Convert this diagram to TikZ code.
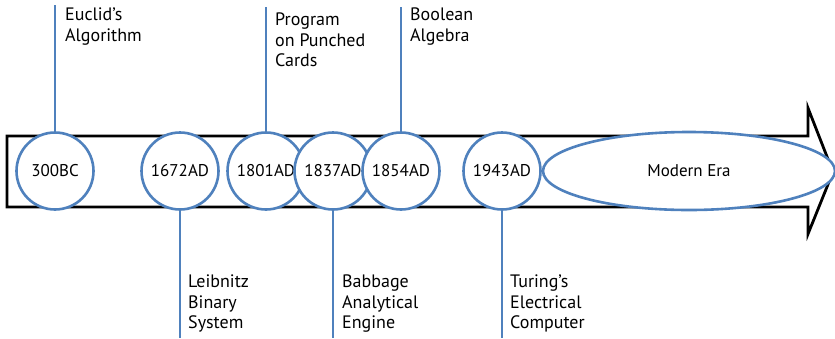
\documentclass[tikz,border=0pt]{standalone}
\usepackage{fontspec}
\setmainfont{PT Sans}
\usetikzlibrary{shapes.geometric}
\definecolor{tlblue}{HTML}{4F81BD}
\tikzset{
  yearc/.style={circle, draw=tlblue, line width=2.6pt, fill=white, minimum size=77pt, inner sep=0pt, font=\fontsize{17}{20}\selectfont},
  conn/.style={draw=tlblue, line width=2.6pt},
  lbl/.style={anchor=north west, inner sep=0pt, align=left, font=\fontsize{18}{20.5}\selectfont},
  arrowbody/.style={draw=black, line width=2.8pt, fill=white, line join=miter}
}
\begin{document}
\begin{tikzpicture}[x=1pt,y=-1pt]
\useasboundingbox (0,0) rectangle (835,338);
% big arrow
\draw[arrowbody] (7,136) -- (808,136) -- (808,108) -- (833,172) -- (808,234) -- (808,207) -- (7,207) -- cycle;
% connector endpoints
\coordinate (t300) at (55,5);
\coordinate (t1801) at (266,7);
\coordinate (t1854) at (401,7);
\coordinate (b1672) at (180,338);
\coordinate (b1837) at (333,338);
\coordinate (b1943) at (502,338);
% circles
\node[yearc] (c300) at (55,171) {300BC};
\node[yearc] (c1672) at (180,171) {1672AD};
\node[yearc] (c1801) at (266,171) {1801AD};
\node[yearc] (c1837) at (333,171) {1837AD};
\node[yearc] (c1854) at (401,171) {1854AD};
\node[yearc] (c1943) at (502,171) {1943AD};
\node[ellipse, draw=tlblue, line width=2.6pt, fill=white, minimum width=292pt, minimum height=78pt, inner sep=0pt, font=\fontsize{17}{20}\selectfont] (modern) at (689,171) {Modern Era};
% connectors
\draw[conn] (t300) -- (c300.north);
\draw[conn] (t1801) -- (c1801.north);
\draw[conn] (t1854) -- (c1854.north);
\draw[conn] (c1672.south) -- (b1672);
\draw[conn] (c1837.south) -- (b1837);
\draw[conn] (c1943.south) -- (b1943);
% labels
\node[lbl] (leuclid) at (65,8) {Euclid’s\\Algorithm};
\node[lbl] (lprog) at (275,13) {Program\\on Punched\\Cards};
\node[lbl] (lbool) at (410,8) {Boolean\\Algebra};
\node[lbl] (lleib) at (188,275) {Leibnitz\\Binary\\System};
\node[lbl] (lbabb) at (342,275) {Babbage\\Analytical\\Engine};
\node[lbl] (lturing) at (510,275) {Turing’s\\Electrical\\Computer};
\end{tikzpicture}
\end{document}
